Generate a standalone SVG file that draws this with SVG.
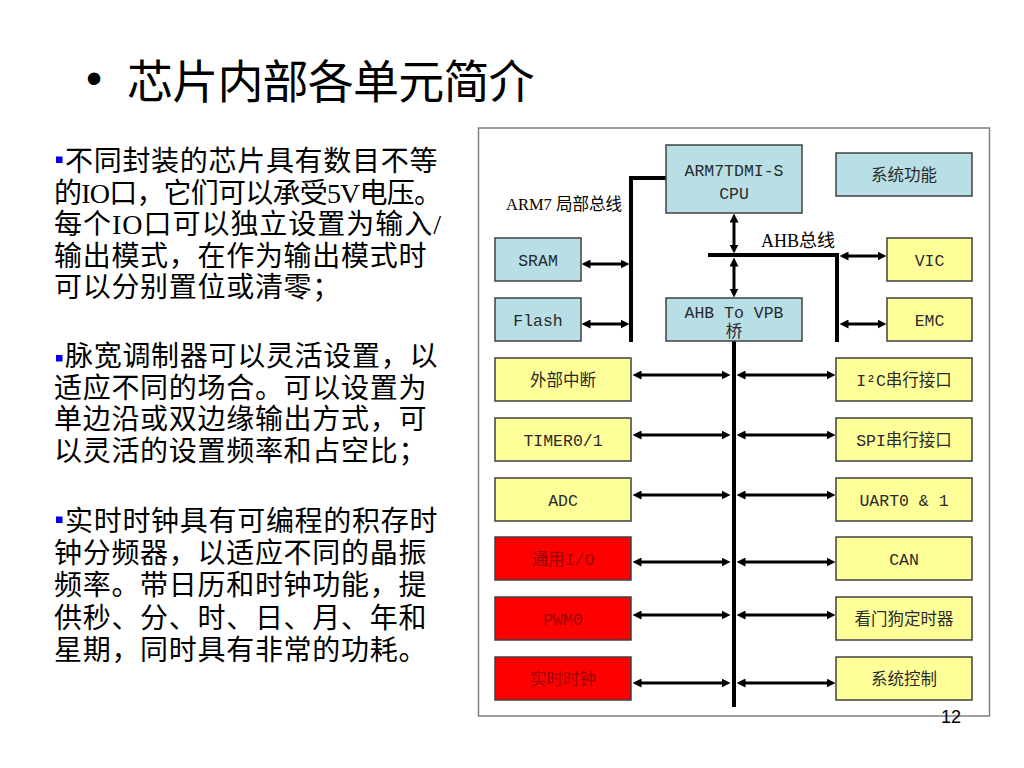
<svg xmlns="http://www.w3.org/2000/svg" width="1024" height="768" viewBox="0 0 1024 768">
<style>
.title{font-family:"Noto Sans CJK SC","Liberation Sans",sans-serif;font-size:46px;fill:#000;letter-spacing:-0.8px}
.bul{font-family:"Liberation Sans",sans-serif;font-size:46px;fill:#000}
.para{font-family:"Liberation Serif","Noto Sans CJK SC",serif;font-size:28px;fill:#000;letter-spacing:0.7px}
.sq{fill:#0000ee}
.box{stroke:#404040;stroke-width:1.5}
.blue{fill:#b8dee6}
.yel{fill:#ffff99}
.red{fill:#ff0000}
.bt{font-family:"Liberation Mono","Noto Sans CJK SC",monospace;font-size:16.5px;fill:#2a2a2a;text-anchor:middle}
.rt{fill:#9a0000}
.lbl{font-family:"Liberation Serif","Noto Sans CJK SC",serif;fill:#000}
.bus{stroke:#000;stroke-width:4;fill:none}
.arr{stroke:#000;stroke-width:3;fill:none;marker-start:url(#ah);marker-end:url(#ah)}
.pg{font-family:"Liberation Sans",sans-serif;font-size:18px;fill:#000;text-anchor:end}
</style>
<defs>
<marker id="ah" viewBox="0 0 9 9" markerWidth="9" markerHeight="9" refX="0.5" refY="4.5" orient="auto-start-reverse" markerUnits="userSpaceOnUse">
<path d="M0,0 L9,4.5 L0,9 z" fill="#000"/>
</marker>
</defs>
<rect width="1024" height="768" fill="#fff"/>

<g id="title">
<text class="bul" x="94" y="94" text-anchor="middle">•</text>
<text class="title" x="127" y="98">芯片内部各单元简介</text>
</g>

<g id="text-left">
<rect class="sq" x="56" y="156.5" width="6.5" height="6.5"/>
<text class="para"><tspan x="65" y="171">不同封装的芯片具有数目不等</tspan><tspan x="54" y="202.5" textLength="388" lengthAdjust="spacing" style="letter-spacing:0">的IO口，它们可以承受5V电压。</tspan><tspan x="54" y="234" textLength="387" lengthAdjust="spacing" style="letter-spacing:0">每个IO口可以独立设置为输入/</tspan><tspan x="54" y="265.5">输出模式，在作为输出模式时</tspan><tspan x="54" y="297">可以分别置位或清零；</tspan></text>

<rect class="sq" x="56" y="355" width="6.5" height="6.5"/>
<text class="para"><tspan x="65" y="366">脉宽调制器可以灵活设置，以</tspan><tspan x="54" y="397.5">适应不同的场合。可以设置为</tspan><tspan x="54" y="429">单边沿或双边缘输出方式，可</tspan><tspan x="54" y="460.5">以灵活的设置频率和占空比；</tspan></text>

<rect class="sq" x="56" y="516.5" width="6.5" height="6.5"/>
<text class="para"><tspan x="65" y="531">实时时钟具有可编程的积存时</tspan><tspan x="54" y="563">钟分频器，以适应不同的晶振</tspan><tspan x="54" y="595">频率。带日历和时钟功能，提</tspan><tspan x="54" y="627.5">供秒、分、时、日、月、年和</tspan><tspan x="54" y="659.5">星期，同时具有非常的功耗。</tspan></text>
</g>

<g id="frame">
<rect x="478.5" y="128" width="511" height="588" fill="#fff" stroke="#808080" stroke-width="1.5"/>
</g>

<g id="connectors">
<path class="bus" d="M631,178 V342"/>
<path class="bus" d="M629,178 H666" stroke-width="3.5"/>
<path class="bus" d="M708,255 H839"/>
<path class="bus" d="M837,255 V342"/>
<path class="bus" d="M734,341 V707"/>
<line class="arr" x1="590" y1="264" x2="621" y2="264"/>
<line class="arr" x1="590" y1="324" x2="621" y2="324"/>
<line class="arr" x1="734" y1="222" x2="734" y2="245"/>
<line class="arr" x1="734" y1="266" x2="734" y2="289"/>
<line class="arr" x1="848" y1="256" x2="878" y2="256"/>
<line class="arr" x1="848" y1="324" x2="878" y2="324"/>
<line class="arr" x1="641" y1="375" x2="722" y2="375"/>
<line class="arr" x1="641" y1="435" x2="722" y2="435"/>
<line class="arr" x1="641" y1="495" x2="722" y2="495"/>
<line class="arr" x1="641" y1="562" x2="722" y2="562"/>
<line class="arr" x1="641" y1="615" x2="722" y2="615"/>
<line class="arr" x1="641" y1="683" x2="722" y2="683"/>
<line class="arr" x1="745" y1="375" x2="827" y2="375"/>
<line class="arr" x1="745" y1="435" x2="827" y2="435"/>
<line class="arr" x1="745" y1="495" x2="827" y2="495"/>
<line class="arr" x1="745" y1="562" x2="827" y2="562"/>
<line class="arr" x1="745" y1="615" x2="827" y2="615"/>
<line class="arr" x1="745" y1="683" x2="827" y2="683"/>
</g>

<g id="bus-labels">
<text class="lbl" x="506" y="210" font-size="16.5">ARM7 局部总线</text>
<text class="lbl" x="761" y="246.5" font-size="18">AHB总线</text>
</g>

<g id="cpu"><rect class="box blue" x="666" y="145" width="136" height="68"/>
<text class="bt" x="734" y="176">ARM7TDMI-S</text><text class="bt" x="734" y="199">CPU</text></g>
<g id="sysfunc"><rect class="box blue" x="836" y="153" width="136" height="43"/>
<text class="bt" x="904" y="181">系统功能</text></g>
<g id="sram"><rect class="box blue" x="495" y="238" width="86" height="43"/>
<text class="bt" x="538" y="266">SRAM</text></g>
<g id="flash"><rect class="box blue" x="495" y="298" width="86" height="43"/>
<text class="bt" x="538" y="326">Flash</text></g>
<g id="bridge"><rect class="box blue" x="666" y="298" width="136" height="43"/>
<text class="bt" x="734" y="318">AHB To VPB</text><text class="bt" x="734" y="337">桥</text></g>
<g id="vic"><rect class="box yel" x="887" y="238" width="85" height="43"/>
<text class="bt" x="929.5" y="266">VIC</text></g>
<g id="emc"><rect class="box yel" x="887" y="298" width="85" height="43"/>
<text class="bt" x="929.5" y="326">EMC</text></g>

<g id="eint"><rect class="box yel" x="495" y="358" width="136" height="43"/>
<text class="bt" x="563" y="385.5">外部中断</text></g>
<g id="timer"><rect class="box yel" x="495" y="418" width="136" height="43"/>
<text class="bt" x="563" y="445.5">TIMER0/1</text></g>
<g id="adc"><rect class="box yel" x="495" y="478" width="136" height="43"/>
<text class="bt" x="563" y="505.5">ADC</text></g>
<g id="gpio"><rect class="box red" x="495" y="537" width="136" height="43"/>
<text class="bt rt" x="563" y="564.5">通用I/O</text></g>
<g id="pwm"><rect class="box red" x="495" y="597" width="136" height="43"/>
<text class="bt rt" x="563" y="624.5">PWM0</text></g>
<g id="rtc"><rect class="box red" x="495" y="657" width="136" height="43"/>
<text class="bt rt" x="563" y="684.5">实时时钟</text></g>

<g id="i2c"><rect class="box yel" x="836" y="358" width="136" height="43"/>
<text class="bt" x="904" y="385.5">I²C串行接口</text></g>
<g id="spi"><rect class="box yel" x="836" y="418" width="136" height="43"/>
<text class="bt" x="904" y="445.5">SPI串行接口</text></g>
<g id="uart"><rect class="box yel" x="836" y="478" width="136" height="43"/>
<text class="bt" x="904" y="505.5">UART0 &amp; 1</text></g>
<g id="can"><rect class="box yel" x="836" y="537" width="136" height="43"/>
<text class="bt" x="904" y="564.5">CAN</text></g>
<g id="wdt"><rect class="box yel" x="836" y="597" width="136" height="43"/>
<text class="bt" x="904" y="624.5">看门狗定时器</text></g>
<g id="sysctl"><rect class="box yel" x="836" y="657" width="136" height="43"/>
<text class="bt" x="904" y="684.5">系统控制</text></g>

<g id="page-number">
<text class="pg" x="961" y="723">12</text>
</g>
</svg>
